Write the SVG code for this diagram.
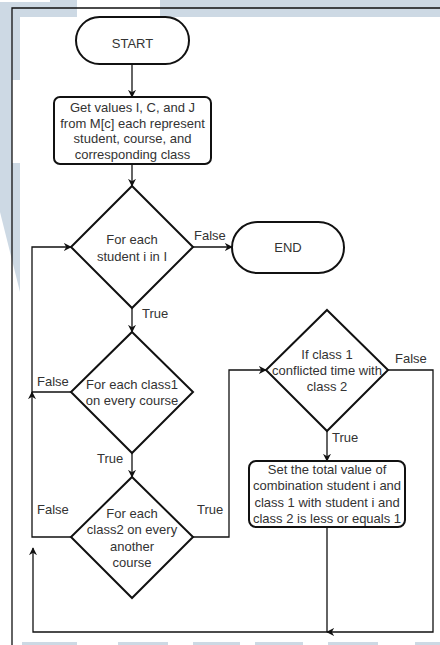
<svg xmlns="http://www.w3.org/2000/svg" width="440" height="645" viewBox="0 0 440 645">
  <style>
    .bg { fill: #cdd9e4; }
    .shape { fill: #ffffff; stroke: #111; stroke-width: 2; }
    .t { font-family: "Liberation Sans", Arial, sans-serif; font-size: 13px; fill: #333; text-anchor: middle; }
    .lbl { font-family: "Liberation Sans", Arial, sans-serif; font-size: 13px; fill: #333; }
    .edge { fill: none; stroke: #111; stroke-width: 1.3; }
    .frame { fill: none; stroke: #111; stroke-width: 1.3; }
  </style>
  <defs>
    <marker id="arrow" viewBox="0 0 10 10" refX="9" refY="5" markerWidth="8" markerHeight="8" markerUnits="userSpaceOnUse" orient="auto">
      <path d="M0,0 L10,5 L0,10 L3,5 z" fill="#111"/>
    </marker>
  </defs>

  <!-- page background -->
  <rect x="0" y="0" width="440" height="645" fill="#ffffff"/>
  <g id="background">
    <rect class="bg" x="0" y="0" width="77" height="17"/>
    <rect x="0" y="0" width="50" height="2" fill="#ffffff"/>
    <rect class="bg" x="160" y="0" width="280" height="17"/>
    <polygon class="bg" points="0,17 12,17 12,163 20,163 20,292 0,212"/>
    <rect class="bg" x="12" y="17" width="8" height="63"/>
    <rect class="bg" x="22" y="642" width="55" height="3"/>
    <rect class="bg" x="118" y="642" width="50" height="3"/>
    <rect class="bg" x="193" y="642" width="47" height="3"/>
    <rect class="bg" x="255" y="642" width="48" height="3"/>
    <rect class="bg" x="328" y="642" width="50" height="3"/>
    <rect class="bg" x="415" y="642" width="25" height="3"/>
  </g>
  <rect x="20" y="17" width="420" height="625" fill="#ffffff"/>
  <path class="frame" d="M12,645 L12,8 L440,8"/>

  <!-- connectors -->
  <g id="connectors">
    <path class="edge" d="M132,64 L132,97" marker-end="url(#arrow)"/>
    <path class="edge" d="M132,164 L132,186" marker-end="url(#arrow)"/>
    <path class="edge" d="M193,247 L232,247" marker-end="url(#arrow)"/>
    <path class="edge" d="M132,308 L132,332" marker-end="url(#arrow)"/>
    <path class="edge" d="M132,453 L132,477" marker-end="url(#arrow)"/>
    <path class="edge" d="M193,537 L229,537 L229,370 L266,370" marker-end="url(#arrow)"/>
    <path class="edge" d="M327,431 L327,461" marker-end="url(#arrow)"/>
    <path class="edge" d="M71,392 L32,392 L32,247 L71,247" marker-end="url(#arrow)"/>
    <path class="edge" d="M71,537 L32,537 L32,392" marker-end="url(#arrow)"/>
    <path class="edge" d="M388,370 L433,370 L433,632 L327,632" marker-end="url(#arrow)"/>
    <path class="edge" d="M327,527 L327,632 L33,632 L33,548" marker-end="url(#arrow)"/>

    <text class="lbl" x="194" y="240">False</text>
    <text class="lbl" x="142" y="318">True</text>
    <text class="lbl" x="37" y="386">False</text>
    <text class="lbl" x="97" y="463">True</text>
    <text class="lbl" x="37" y="514">False</text>
    <text class="lbl" x="197" y="514">True</text>
    <text class="lbl" x="395" y="363">False</text>
    <text class="lbl" x="332" y="442">True</text>
  </g>

  <g id="start">
    <rect class="shape" x="76" y="17" width="113" height="47" rx="23.5" ry="23.5"/>
    <text class="t" x="132.5" y="47.5">START</text>
  </g>

  <g id="get-values">
    <rect class="shape" x="54" y="97" width="157" height="67" rx="6" ry="6"/>
    <text class="t" x="132.5" y="112">Get values I, C, and J</text>
    <text class="t" x="132.5" y="127.5">from M[c] each represent</text>
    <text class="t" x="132.5" y="143">student, course, and</text>
    <text class="t" x="132.5" y="158.5">corresponding class</text>
  </g>

  <g id="each-student">
    <polygon class="shape" points="132,186 193,247 132,308 71,247"/>
    <text class="t" x="132" y="244">For each</text>
    <text class="t" x="132" y="260.5">student i in I</text>
  </g>

  <g id="end">
    <rect class="shape" x="232" y="222" width="112" height="51" rx="25.5" ry="25.5"/>
    <text class="t" x="288" y="252">END</text>
  </g>

  <g id="each-class1">
    <polygon class="shape" points="132,332 193,392 132,453 71,392"/>
    <text class="t" x="132" y="389">For each class1</text>
    <text class="t" x="132" y="405">on every course</text>
  </g>

  <g id="each-class2">
    <polygon class="shape" points="132,477 193,537 132,598 71,537"/>
    <text class="t" x="132" y="518">For each</text>
    <text class="t" x="132" y="534.3">class2 on every</text>
    <text class="t" x="132" y="550.6">another</text>
    <text class="t" x="132" y="567">course</text>
  </g>

  <g id="conflict-check">
    <polygon class="shape" points="327,310 388,370 327,431 266,370"/>
    <text class="t" x="327" y="359">If class 1</text>
    <text class="t" x="327" y="375">conflicted time with</text>
    <text class="t" x="327" y="391">class 2</text>
  </g>

  <g id="set-total">
    <rect class="shape" x="249" y="461" width="156" height="66" rx="7" ry="7"/>
    <text class="t" x="327" y="474">Set the total value of</text>
    <text class="t" x="327" y="490">combination student i and</text>
    <text class="t" x="327" y="506.5">class 1 with student i and</text>
    <text class="t" x="327" y="522.5">class 2 is less or equals 1</text>
  </g>
</svg>
